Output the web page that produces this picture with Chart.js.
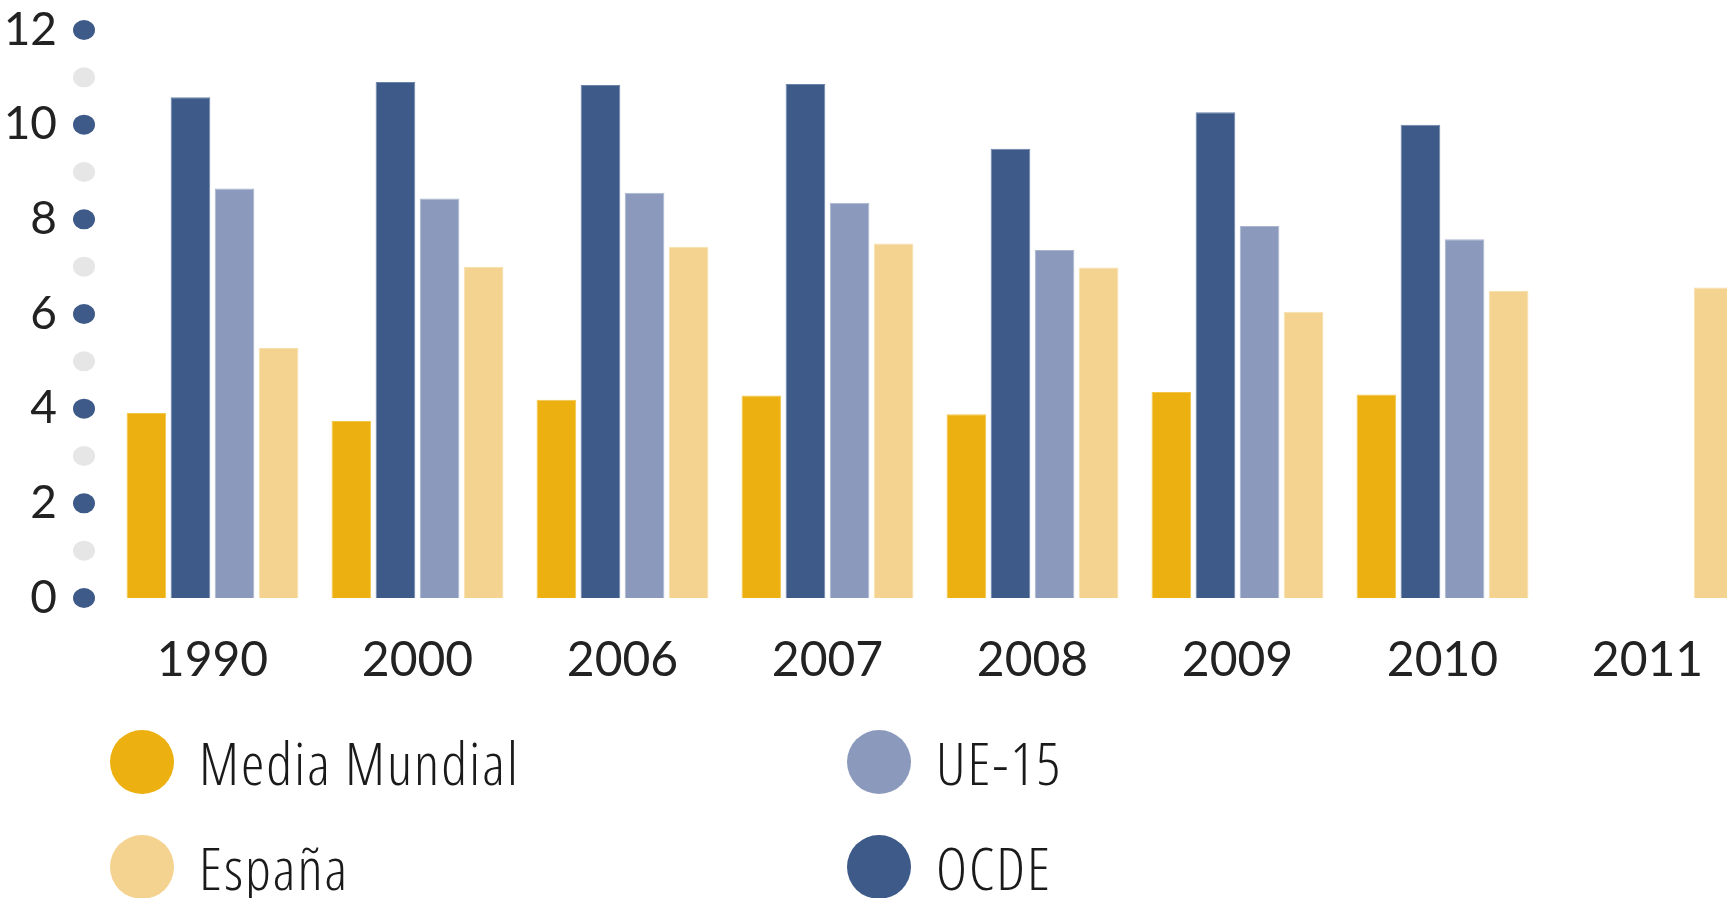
<!DOCTYPE html>
<html>
<head>
<meta charset="utf-8">
<script src="https://cdn.jsdelivr.net/npm/chart.js@4.4.1/dist/chart.umd.min.js"></script>
<style>
  html, body { margin: 0; padding: 0; background: #fff; overflow: hidden; width: 1727px; height: 898px; }
  #wrap { position: absolute; left: 0; top: 0; width: 1750px; height: 690px; }
  #legend { position: absolute; left: 110px; top: 730px; display: grid; grid-template-columns: 737px auto; row-gap: 41px; }
  .item { display: flex; align-items: center; height: 64px; }
  .dot { width: 64px; height: 64px; border-radius: 50%; margin-right: 25px; }
  .lbl { font-family: "Open Sans", sans-serif; font-stretch: condensed; font-weight: 300; font-size: 59px; letter-spacing: 2px; color: #1a1a1a; }
</style>
</head>
<body>
<div id="wrap"><canvas id="chart"></canvas></div>
<div id="legend"></div>
<script>
// datos
const years = ['1990', '2000', '2006', '2007', '2008', '2009', '2010', '2011'];
const mediaMundial = [3.91, 3.74, 4.19, 4.28, 3.88, 4.35, 4.30, null];
const ocde = [10.58, 10.9, 10.84, 10.86, 9.49, 10.26, 10.0, null];
const ue15 = [8.65, 8.44, 8.56, 8.35, 7.35, 7.86, 7.58, null];
const espana = [5.28, 7.0, 7.42, 7.49, 6.98, 6.05, 6.49, 6.56];
const yTicks = [0, 2, 4, 6, 8, 10, 12];

// orden de la leyenda: Media Mundial, UE-15, España, OCDE
const legendOrder = [0, 2, 3, 1];

const axisDots = {
    id: 'axisDots',
    afterDraw(chart) {
        const y = chart.scales.y;
        const ctx = chart.ctx;
        const x = y.right - 26;
        ctx.save();
        y.ticks.forEach(t => {
            ctx.beginPath();
            ctx.fillStyle = yTicks.includes(t.value) ? '#3d5a88' : '#e6e6e6';
            ctx.ellipse(x, y.getPixelForValue(t.value), 11, 10, 0, 0, Math.PI * 2);
            ctx.fill();
        });
        ctx.restore();
    }
};

const htmlLegend = {
    id: 'htmlLegend',
    afterUpdate(chart) {
        const box = document.getElementById('legend');
        box.innerHTML = '';
        legendOrder.forEach(i => {
            const ds = chart.data.datasets[i];
            const item = document.createElement('div');
            item.className = 'item';
            item.innerHTML = '<span class="dot" style="background:' + ds.backgroundColor + '"></span><span class="lbl">' + ds.label + '</span>';
            box.appendChild(item);
        });
    }
};

new Chart(document.getElementById('chart'), {
    type: 'bar',
    data: {
        labels: years,
        datasets: [
            { label: 'Media Mundial', data: mediaMundial, backgroundColor: '#ecb111', borderColor: '#f3c64a', borderWidth: 1 },
            { label: 'OCDE', data: ocde, backgroundColor: '#3d5a88', borderColor: '#6b83aa', borderWidth: 1 },
            { label: 'UE-15', data: ue15, backgroundColor: '#8b9abc', borderColor: '#aab5d0', borderWidth: 1 },
            { label: 'España', data: espana, backgroundColor: '#f4d290', borderColor: '#f8e0ad', borderWidth: 1 }
        ]
    },
    options: {
        responsive: true,
        maintainAspectRatio: false,
        animation: false,
        datasets: { bar: { barPercentage: 0.9, categoryPercentage: 0.86 } },
        layout: { padding: { top: 30, left: 0, right: 0, bottom: 0 } },
        plugins: { legend: { display: false }, tooltip: { enabled: false } },
        scales: {
            x: {
                grid: { display: false, drawTicks: false },
                border: { display: false },
                afterFit(scale) { scale.height = 92; },
                ticks: { padding: 34, color: '#222', font: { family: 'Lato', size: 48 } }
            },
            y: {
                min: 0,
                max: 12,
                grid: { display: false, drawTicks: false },
                border: { display: false },
                afterFit(scale) {
                    scale.width = 110;
                    // la separacion de las etiquetas no debe empujar el area del grafico
                    scale.paddingTop = 0;
                    scale.paddingBottom = 0;
                },
                ticks: {
                    stepSize: 1,
                    autoSkip: false,
                    padding: 53,
                    color: '#222',
                    font: { family: 'Lato', size: 46 },
                    callback: v => yTicks.includes(v) ? v : ''
                }
            }
        }
    },
    plugins: [axisDots, htmlLegend]
});
</script>
</body>
</html>
